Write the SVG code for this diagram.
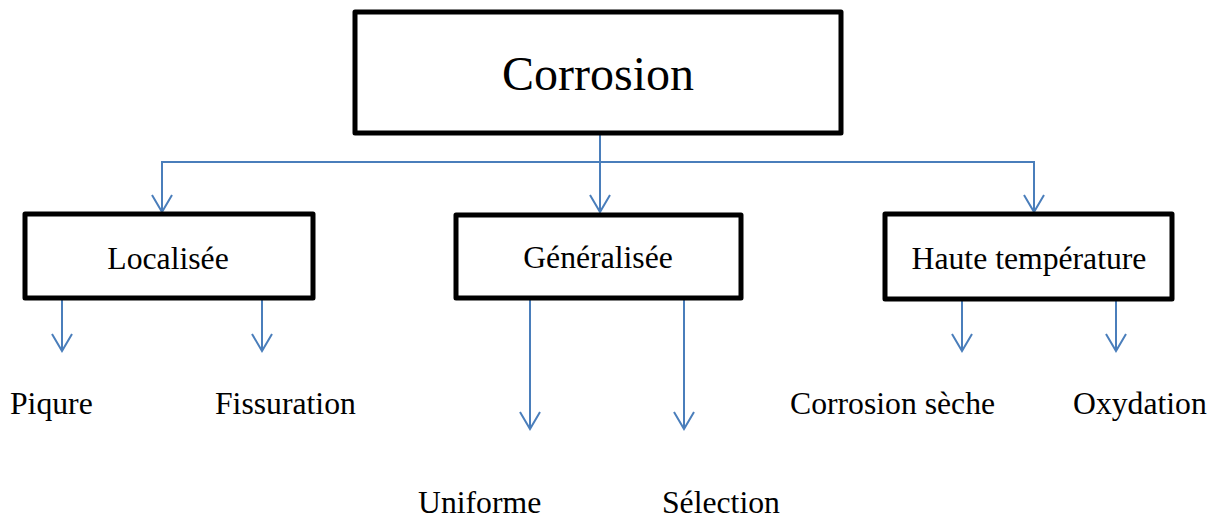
<svg xmlns="http://www.w3.org/2000/svg" width="1217" height="519" viewBox="0 0 1217 519">
<style>
.box{fill:#fff;stroke:#000;stroke-width:5;stroke-linejoin:round}
.lbl{font-family:"Liberation Serif","Times New Roman",serif;fill:#000;font-size:31.7px}
.c{stroke:#4a7ebb;stroke-width:2;fill:none}
</style>
<defs>
<marker id="ah" markerUnits="userSpaceOnUse" viewBox="-20 -12 22 24" markerWidth="22" markerHeight="24" refX="0" refY="0" orient="auto">
<path d="M-17,-10 L0,0 L-17,10" fill="none" stroke="#4a7ebb" stroke-width="2"/>
</marker>
</defs>
<rect width="1217" height="519" fill="#fff"/>
<g id="connectors">
<path class="c" d="M600,135 V212" marker-end="url(#ah)"/>
<path class="c" d="M162,212 V162 H1034 V212" marker-end="url(#ah)"/>
<path class="c" d="M162,162 V212" marker-end="url(#ah)"/>
<path class="c" d="M62,300 V351" marker-end="url(#ah)"/>
<path class="c" d="M262,300 V351" marker-end="url(#ah)"/>
<path class="c" d="M530,300 V429" marker-end="url(#ah)"/>
<path class="c" d="M684,300 V429" marker-end="url(#ah)"/>
<path class="c" d="M962,301 V351" marker-end="url(#ah)"/>
<path class="c" d="M1116,301 V351" marker-end="url(#ah)"/>
</g>
<g id="corrosion">
<rect class="box" x="355" y="12" width="486" height="121"/>
<text class="lbl" x="598" y="90" style="font-size:48px" text-anchor="middle">Corrosion</text>
</g>
<g id="localisee">
<rect class="box" x="25" y="214" width="288" height="84"/>
<text class="lbl" x="168" y="269" text-anchor="middle">Localisée</text>
</g>
<g id="generalisee">
<rect class="box" x="456" y="215" width="285" height="83"/>
<text class="lbl" x="598" y="268" text-anchor="middle">Généralisée</text>
</g>
<g id="haute">
<rect class="box" x="885" y="214" width="287" height="85"/>
<text class="lbl" x="1029" y="269" text-anchor="middle">Haute température</text>
</g>
<g id="piqure"><text class="lbl" x="10" y="414">Piqure</text></g>
<g id="fissuration"><text class="lbl" x="215" y="414">Fissuration</text></g>
<g id="uniforme"><text class="lbl" x="418" y="513">Uniforme</text></g>
<g id="selection"><text class="lbl" x="662" y="513">Sélection</text></g>
<g id="seche"><text class="lbl" x="790" y="414">Corrosion sèche</text></g>
<g id="oxydation"><text class="lbl" x="1073" y="414">Oxydation</text></g>
</svg>
